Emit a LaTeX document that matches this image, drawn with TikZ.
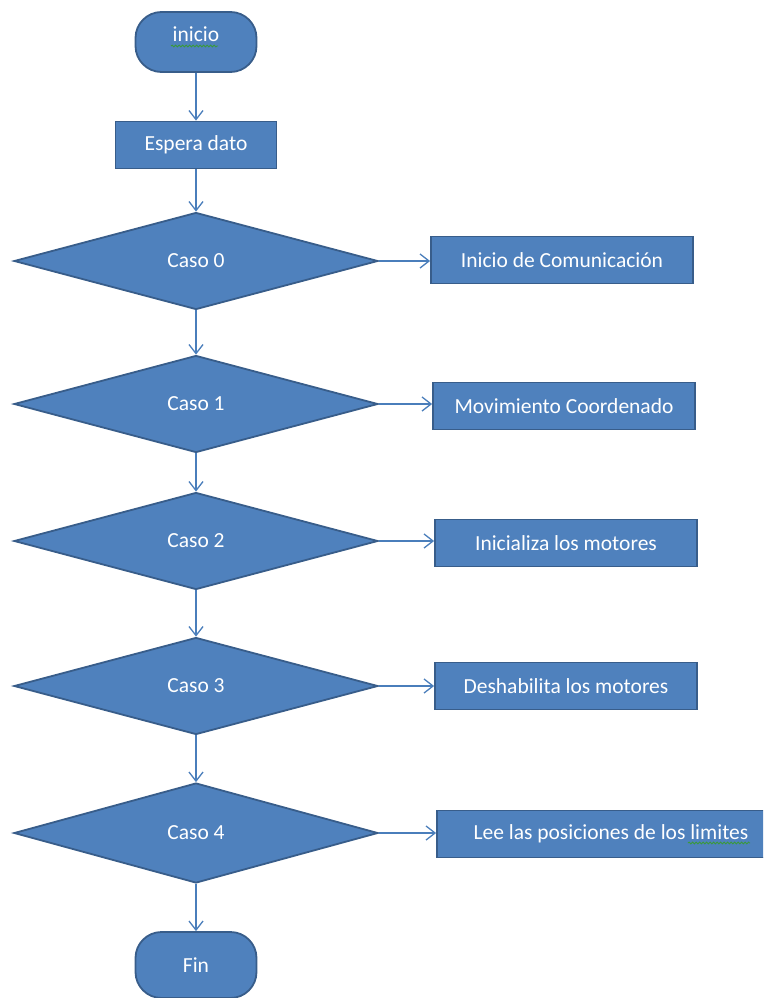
\documentclass[tikz,border=0pt]{standalone}
\usepackage{fontspec}
\setmainfont{Carlito}
\usetikzlibrary{shapes.geometric,arrows.meta,decorations.pathmorphing}
\definecolor{cajaazul}{HTML}{4F81BD}
\definecolor{bordeazul}{HTML}{385D8A}
\definecolor{lineaazul}{HTML}{4A7EBB}
\definecolor{verdeorto}{HTML}{3A9A3A}
\tikzset{
  bloque/.style={fill=cajaazul,draw=bordeazul,line width=1.8pt,text=white,inner sep=2pt},
  terminal/.style={bloque,rectangle,rounded corners=26pt,minimum width=121pt,minimum height=60pt},
  proceso/.style={bloque,rectangle,minimum height=47pt},
  decision/.style={bloque,diamond,minimum width=364pt,minimum height=97pt},
  flecha/.style={->,draw=lineaazul,line width=1.3pt},
  orto/.style={draw=verdeorto,line width=.8pt,decorate,decoration={snake,amplitude=1pt,segment length=3.5pt}}
}
\begin{document}
\begin{tikzpicture}[x=1pt,y=-1pt,>={Straight Barb[length=9pt,width=14pt]},font=\fontsize{21.5}{26}\selectfont]
  \path[use as bounding box] (0,0) rectangle (763,998);
  \clip (0,0) rectangle (763,998);
  % columna principal
  \node[terminal] (inicio) at (196,42) {\smash{inicio}};
  \node[proceso,minimum width=161pt] (espera) at (196,145) {Espera dato};
  \node[decision] (caso0) at (196,261) {Caso 0};
  \node[decision] (caso1) at (196,404) {Caso 1};
  \node[decision] (caso2) at (196,541) {Caso 2};
  \node[decision] (caso3) at (196,686) {Caso 3};
  \node[decision,minimum height=100pt] (caso4) at (196,833) {Caso 4};
  \node[terminal,minimum height=66pt] (fin) at (196,965) {Fin};
  % acciones de cada caso
  \node[proceso,minimum width=262pt] (comunica) at (562,260) {Inicio de Comunicación};
  \node[proceso,minimum width=262pt] (movimiento) at (564,406) {Movimiento Coordenado};
  \node[proceso,minimum width=262pt] (inicializa) at (566,543) {Inicializa los motores};
  \node[proceso,minimum width=262pt] (deshabilita) at (566,686) {Deshabilita los motores\hspace{16pt}};
  \node[proceso,minimum width=338pt] (limites) at (606,834) {\hspace{10pt}Lee las posiciones de los limites};
  % flujo
  \draw[flecha] (inicio) -- (espera);
  \draw[flecha] (espera) -- (caso0);
  \draw[flecha] (caso0) -- (caso1);
  \draw[flecha] (caso1) -- (caso2);
  \draw[flecha] (caso2) -- (caso3);
  \draw[flecha] (caso3) -- (caso4);
  \draw[flecha] (caso4) -- (fin);
  \draw[flecha] (caso0.east) -- (caso0.east -| comunica.west);
  \draw[flecha] (caso1.east) -- (caso1.east -| movimiento.west);
  \draw[flecha] (caso2.east) -- (caso2.east -| inicializa.west);
  \draw[flecha] (caso3.east) -- (caso3.east -| deshabilita.west);
  \draw[flecha] (caso4.east) -- (caso4.east -| limites.west);
  % subrayado del corrector
  \draw[orto] (171,46) -- (218,46);
  \draw[orto] (688,843) -- (750,843);
\end{tikzpicture}
\end{document}
